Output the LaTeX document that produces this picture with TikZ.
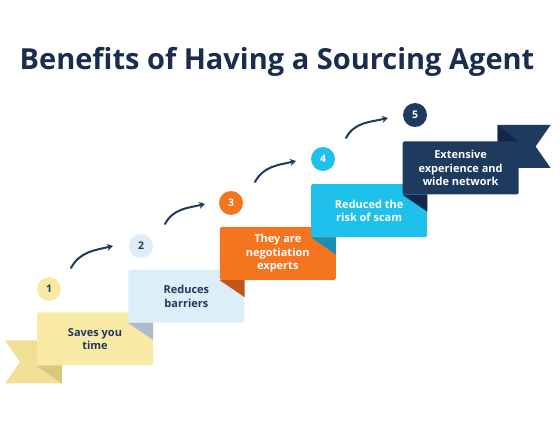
\documentclass[tikz,border=0pt]{standalone}
\usepackage{fontspec}
\setmainfont{Open Sans}
\usetikzlibrary{arrows.meta,calc}
\definecolor{navy}{HTML}{1E3A5F}
\definecolor{navyfold}{HTML}{132848}
\definecolor{titlec}{HTML}{1B2D4F}
\definecolor{yel}{HTML}{F8EAA5}
\definecolor{yeltail}{HTML}{F0DF95}
\definecolor{yelfold}{HTML}{D9C77D}
\definecolor{lblue}{HTML}{DDEEF8}
\definecolor{lbluefold}{HTML}{A9BDCD}
\definecolor{orng}{HTML}{F47420}
\definecolor{orngfold}{HTML}{C4561C}
\definecolor{cyn}{HTML}{1FC1EC}
\definecolor{cynfold}{HTML}{1890B4}
\definecolor{darktext}{HTML}{22385A}
\begin{document}
\begin{tikzpicture}[x=1pt,y=-1pt,
 stepbox/.style={minimum width=116pt,minimum height=53pt,inner sep=0pt,rounded corners=1.5pt,align=center,font=\fontsize{11}{13.5}\selectfont\bfseries},
 numdot/.style={circle,minimum size=24pt,inner sep=0pt,font=\fontsize{10.5}{12}\selectfont\bfseries},
 curvearrow/.style={line width=2pt,draw=navy,line cap=round,-{Stealth[length=6pt,width=7pt]}}]
\useasboundingbox[fill=white] (0,0) rectangle (560,446);
\node[anchor=base,font=\fontsize{29}{34}\selectfont\bfseries,text=titlec] (title) at (277,70) {Benefits of Having a Sourcing Agent};
% box positions
\coordinate (c1) at (95,339);
\coordinate (c2) at (186.4,296.25);
\coordinate (c3) at (277.8,253.5);
\coordinate (c4) at (369.2,210.75);
\coordinate (c5) at (460.6,168);
% left tail
\path (c1) ++(-58,26.5) coordinate (lt);
\fill[yeltail] ($(lt)+(-32,-25)$) -- ($(lt)+(25,-25)$) -- ($(lt)+(25,18)$) -- ($(lt)+(-32,18)$) -- ($(lt)+(-17,-3.5)$) -- cycle;
% right tail
\path (c5) ++(58,-26) coordinate (rt);
\fill[navy] ($(rt)+(-21,-17)$) -- ($(rt)+(32,-17)$) -- ($(rt)+(17,4.5)$) -- ($(rt)+(32,26)$) -- ($(rt)+(-21,26)$) -- cycle;
\fill[navyfold] (rt) -- ($(rt)+(-21,0)$) -- ($(rt)+(-21,-17)$) -- cycle;
% boxes
\node[stepbox,fill=yel,text=darktext] (b1) at (c1) {Saves you\\time};
\fill[yelfold] (b1.south west) -- ($(b1.south west)+(25,0)$) -- ($(b1.south west)+(25,18)$) -- cycle;
\node[stepbox,fill=lblue,text=darktext] (b2) at (c2) {Reduces\\barriers};
\fill[lbluefold] (b2.south west) -- (b1.east |- b2.south) -- ($(b1.east |- b2.south)+(0,17)$) -- cycle;
\node[stepbox,fill=orng,text=white] (b3) at (c3) {They are\\negotiation\\experts};
\fill[orngfold] (b3.south west) -- (b2.east |- b3.south) -- ($(b2.east |- b3.south)+(0,17)$) -- cycle;
\node[stepbox,fill=cyn,text=white] (b4) at (c4) {Reduced the\\risk of scam};
\fill[cynfold] (b4.south west) -- (b3.east |- b4.south) -- ($(b3.east |- b4.south)+(0,17)$) -- cycle;
\node[stepbox,fill=navy,text=white] (b5) at (c5) {Extensive\\experience and\\wide network};
\fill[navyfold] (b5.south west) -- (b4.east |- b5.south) -- ($(b4.east |- b5.south)+(0,17)$) -- cycle;
% number dots
\node[numdot,fill=yel,text=darktext] (n1) at (49,289) {1};
\node[numdot,fill=lblue,text=darktext] (n2) at (141,246) {2};
\node[numdot,fill=orng,text=white] (n3) at (231,203) {3};
\node[numdot,fill=cyn,text=white] (n4) at (323,159) {4};
\node[numdot,fill=navy,text=white] (n5) at (415,115) {5};
% arrows
\coordinate (a1s) at (71,268); \coordinate (a1e) at (113,246);
\coordinate (a2s) at (165,224); \coordinate (a2e) at (205,204);
\coordinate (a3s) at (255,182); \coordinate (a3e) at (296,161);
\coordinate (a4s) at (346,138); \coordinate (a4e) at (388,118);
\draw[curvearrow] (a1s) to[out=62,in=193] (a1e);
\draw[curvearrow] (a2s) to[out=62,in=193] (a2e);
\draw[curvearrow] (a3s) to[out=62,in=193] (a3e);
\draw[curvearrow] (a4s) to[out=62,in=193] (a4e);
\end{tikzpicture}
\end{document}
